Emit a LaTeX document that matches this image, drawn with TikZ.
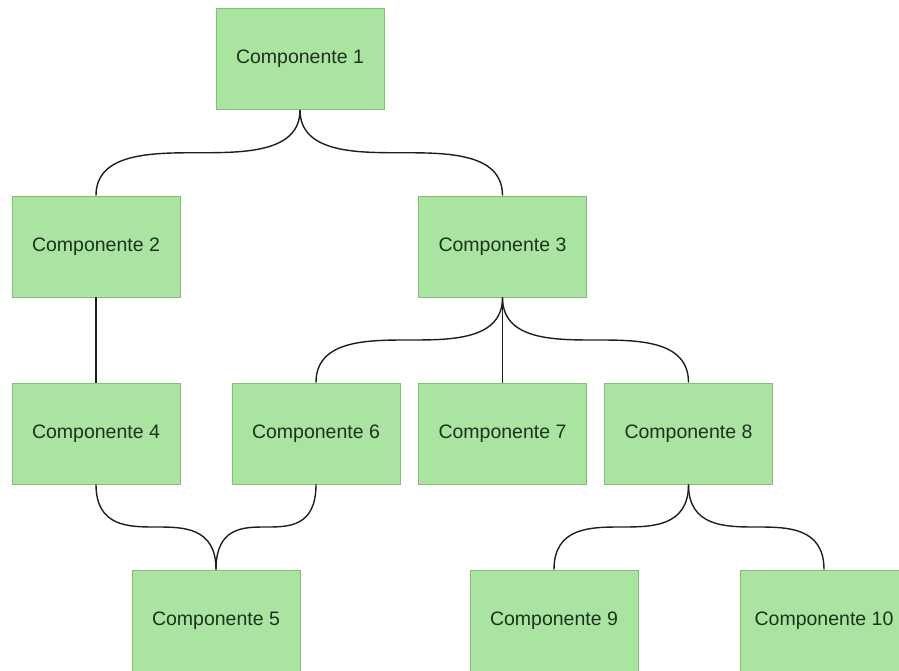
\documentclass[tikz,border=0pt]{standalone}
\usepackage{fontspec}
\setmainfont{Liberation Sans}
\usetikzlibrary{calc}
\definecolor{boxfill}{RGB}{169,228,160}
\definecolor{boxline}{RGB}{134,190,120}
\definecolor{boxtext}{RGB}{30,50,30}
\definecolor{edgecol}{RGB}{30,30,30}
\tikzset{
  comp/.style={draw=boxline, fill=boxfill, line width=0.9pt, minimum width=168pt, minimum height=101pt, inner sep=0pt, text=boxtext, font=\fontsize{19.5}{22}\selectfont},
  link/.style={draw=edgecol, line width=1.4pt}
}
\newcommand\treeedge[2]{%
  \draw[link] let \p1=(#1.south), \p2=(#2.north), \n1={(\y1+\y2)/2}, \n2={(\x1+\x2)/2} in
    (\p1) .. controls (\x1,\n1) and ({\x1+0.55*(\n2-\x1)},\n1) .. (\n2,\n1)
          .. controls ({\x2+0.55*(\n2-\x2)},\n1) and (\x2,\n1) .. (\p2);}
\begin{document}
\begin{tikzpicture}[x=1pt,y=-1pt]
\useasboundingbox (0,0) rectangle (899,671);
\clip (0,0) rectangle (899,671);
\node[comp] (c1) at (300,59) {Componente 1};
\node[comp] (c2) at (96,246.5) {Componente 2};
\node[comp] (c3) at (502.5,246.5) {Componente 3};
\node[comp] (c4) at (96,433.5) {Componente 4};
\node[comp] (c6) at (316,433.5) {Componente 6};
\node[comp] (c7) at (502.5,433.5) {Componente 7};
\node[comp] (c8) at (688.5,433.5) {Componente 8};
\node[comp] (c5) at (216,620.5) {Componente 5};
\node[comp] (c9) at (554,620.5) {Componente 9};
\node[comp] (c10) at (824,620.5) {Componente 10};
\treeedge{c1}{c2}
\treeedge{c1}{c3}
\draw[link] (c2.south) -- (c4.north);
\treeedge{c3}{c6}
\draw[link] (c3.south) -- (c7.north);
\treeedge{c3}{c8}
\treeedge{c4}{c5}
\treeedge{c6}{c5}
\treeedge{c8}{c9}
\treeedge{c8}{c10}
\end{tikzpicture}
\end{document}
